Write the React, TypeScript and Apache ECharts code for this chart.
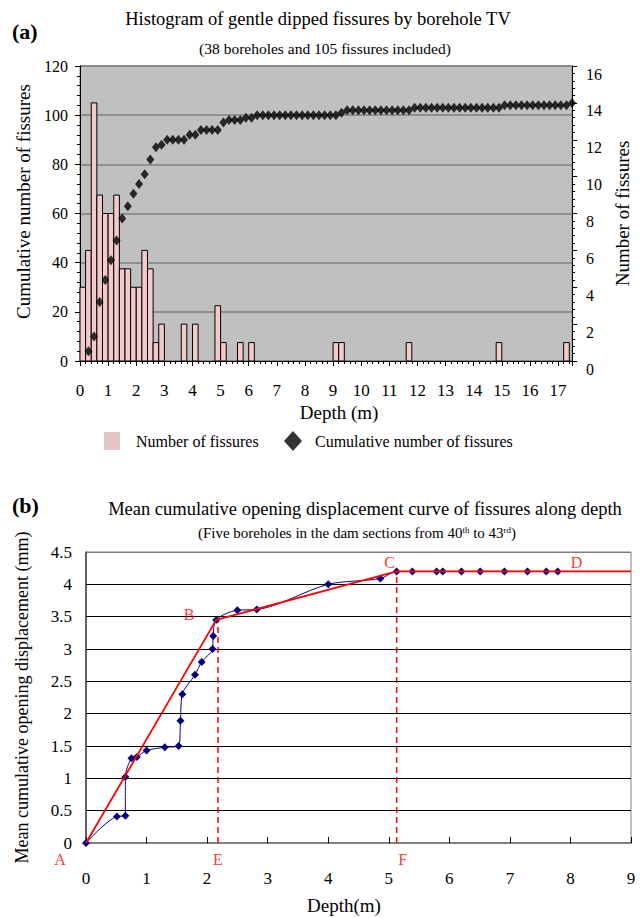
import React, { useEffect, useRef } from "react";
import * as echarts from "echarts";

// ---------- (a) Histogram data ----------
const histDepth = [0, 0.2, 0.4, 0.6, 0.8, 1.0, 1.2, 1.4, 1.6, 1.8, 2.0, 2.2, 2.4, 2.6, 2.8, 3.6, 4.0, 4.8, 5.0, 5.6, 6.0, 9.0, 9.2, 11.6, 14.8, 17.2];
const histCount = [4, 6, 14, 9, 8, 8, 9, 5, 5, 4, 4, 6, 5, 1, 2, 2, 2, 3, 1, 1, 1, 1, 1, 1, 1, 1];
const binWidth = 0.2;

const cumDepth = [
  0.3, 0.5, 0.7, 0.9, 1.1, 1.3, 1.5, 1.7, 1.9, 2.1, 2.3, 2.5, 2.7, 2.9, 3.1, 3.3, 3.5, 3.7, 3.9, 4.1,
  4.3, 4.5, 4.7, 4.9, 5.1, 5.3, 5.5, 5.7, 5.9, 6.1, 6.3, 6.5, 6.7, 6.9, 7.1, 7.3, 7.5, 7.7, 7.9, 8.1,
  8.3, 8.5, 8.7, 8.9, 9.1, 9.3, 9.5, 9.7, 9.9, 10.1, 10.3, 10.5, 10.7, 10.9, 11.1, 11.3, 11.5, 11.7, 11.9, 12.1,
  12.3, 12.5, 12.7, 12.9, 13.1, 13.3, 13.5, 13.7, 13.9, 14.1, 14.3, 14.5, 14.7, 14.9, 15.1, 15.3, 15.5, 15.7, 15.9, 16.1,
  16.3, 16.5, 16.7, 16.9, 17.1, 17.3, 17.5,
];
const cumCount = [
  4, 10, 24, 33, 41, 49, 58, 63, 68, 72, 76, 82, 87, 88, 90, 90, 90, 90, 92, 92,
  94, 94, 94, 94, 97, 98, 98, 98, 99, 99, 100, 100, 100, 100, 100, 100, 100, 100, 100, 100,
  100, 100, 100, 100, 100, 101, 102, 102, 102, 102, 102, 102, 102, 102, 102, 102, 102, 102, 103, 103,
  103, 103, 103, 103, 103, 103, 103, 103, 103, 103, 103, 103, 103, 103, 104, 104, 104, 104, 104, 104,
  104, 104, 104, 104, 104, 104, 105,
];

// ---------- (b) Displacement data ----------
const dispDepth = [0, 0.51, 0.65, 0.65, 0.75, 0.84, 1.0, 1.3, 1.53, 1.56, 1.59, 1.8, 1.91, 2.09, 2.1, 2.15, 2.5, 2.82, 4.0, 4.86, 5.13, 5.39, 5.79, 5.89, 6.2, 6.51, 6.91, 7.29, 7.6, 7.79];
const dispValue = [0, 0.41, 0.42, 1.02, 1.31, 1.33, 1.43, 1.48, 1.5, 1.89, 2.3, 2.6, 2.8, 3.0, 3.2, 3.45, 3.6, 3.61, 4.0, 4.09, 4.2, 4.2, 4.2, 4.2, 4.2, 4.2, 4.2, 4.2, 4.2, 4.2];
const fitDepth = [0, 2.15, 5.13, 9];
const fitValue = [0, 3.45, 4.2, 4.2];
const dashDepth = [2.18, 5.13];
const dashTop = [3.45, 4.2];
const markNames = ["A", "B", "C", "D", "E", "F"];
const markDepth = [0, 2.15, 5.13, 8.1, 2.18, 5.13];
const markValue = [0, 3.45, 4.2, 4.2, 0, 0];

const SERIF = "Liberation Serif";

export default function App() {
  const ref = useRef<HTMLDivElement>(null);

  useEffect(() => {
    if (!ref.current) return;
    const chart = echarts.init(ref.current, null, { renderer: "svg" });

    const labelOffsets: Record<string, number[]> = {
      A: [-26, 16],
      B: [-27, -5],
      C: [-7, -9],
      D: [0, -9],
      E: [0, 16],
      F: [6, 16],
    };

    const dashSeries = dashDepth.map((d, i) => ({
      type: "line",
      xAxisIndex: 1,
      yAxisIndex: 2,
      data: [
        [d, 0],
        [d, dashTop[i]],
      ],
      symbol: "none",
      lineStyle: { color: "#ff0000", width: 1.5, type: [6, 4] },
      z: 3,
    }));

    const txt = (text: string, x: number, y: number, size: number, extra: any = {}) => ({
      type: "text",
      x,
      y,
      style: {
        text,
        fontSize: size,
        fontFamily: SERIF,
        fill: "#000",
        align: "center",
        verticalAlign: "middle",
        ...extra,
      },
    });

    const option: any = {
      animation: false,
      textStyle: { fontFamily: SERIF, color: "#000" },
      graphic: [
        txt("(a)", 12, 31, 22, { fontWeight: "bold", align: "left" }),
        txt("Histogram of gentle dipped fissures by borehole TV", 318, 19, 18.5),
        txt("(38 boreholes and 105 fissures included)", 325, 48, 15.5),
        txt("(b)", 12, 505, 22, { fontWeight: "bold", align: "left" }),
        txt("Mean cumulative opening displacement curve of fissures along depth", 365, 509, 18.5),
        txt("(Five boreholes in the dam sections from 40{sup|th} to 43{sup|rd})", 357, 533, 15, {
          rich: {
            sup: { fontSize: 9, fontFamily: SERIF, verticalAlign: "top", fill: "#000" },
          },
        }),
      ],
      legend: [
        {
          left: 104,
          top: 432,
          padding: 0,
          itemWidth: 16,
          itemHeight: 18,
          selectedMode: false,
          textStyle: { fontSize: 16, fontFamily: SERIF, color: "#000", padding: [0, 0, 0, 11] },
          data: [{ name: "Number of fissures", icon: "rect", itemStyle: { color: "#e8c4c4", borderWidth: 0 } }],
        },
        {
          left: 284,
          top: 431,
          padding: 0,
          itemWidth: 18,
          itemHeight: 20,
          selectedMode: false,
          textStyle: { fontSize: 16, fontFamily: SERIF, color: "#000", padding: [0, 0, 0, 8] },
          data: [{ name: "Cumulative number of fissures", icon: "diamond", itemStyle: { color: "#000" } }],
        },
      ],
      grid: [
        {
          left: 80,
          right: 62,
          top: 66,
          bottom: 557,
          show: true,
          backgroundColor: "#c0c0c0",
          borderColor: "#808080",
          borderWidth: 1,
        },
        {
          left: 86,
          right: 9,
          top: 552,
          bottom: 75,
          show: true,
          backgroundColor: "transparent",
          borderColor: "#808080",
          borderWidth: 1,
        },
      ],
      xAxis: [
        {
          gridIndex: 0,
          type: "value",
          min: 0,
          max: 17.5,
          interval: 1,
          name: "Depth (m)",
          nameLocation: "middle",
          nameGap: 42,
          nameTextStyle: { fontSize: 19, fontFamily: SERIF, color: "#000", padding: [0, 0, 0, 26] },
          axisLine: { show: true, onZero: false, lineStyle: { color: "#000", width: 1 } },
          axisTick: { show: true, inside: false, length: 5, lineStyle: { color: "#000" } },
          minorTick: { show: true, splitNumber: 5, length: 3, lineStyle: { color: "#000" } },
          axisLabel: {
            fontSize: 17,
            fontFamily: SERIF,
            color: "#000",
            margin: 21,
            formatter: (v: number) => (Number.isInteger(v) ? String(v) : ""),
          },
          splitLine: { show: false },
        },
        {
          gridIndex: 1,
          type: "value",
          min: 0,
          max: 9,
          interval: 1,
          name: "Depth(m)",
          nameLocation: "middle",
          nameGap: 53,
          nameTextStyle: { fontSize: 19, fontFamily: SERIF, color: "#000", padding: [0, 29, 0, 0] },
          axisLine: { show: true, onZero: false, lineStyle: { color: "#808080", width: 2 } },
          axisTick: { show: true, inside: true, length: 6, lineStyle: { color: "#000" } },
          axisLabel: { fontSize: 17, fontFamily: SERIF, color: "#000", margin: 27 },
          splitLine: { show: false },
        },
      ],
      yAxis: [
        {
          gridIndex: 0,
          type: "value",
          min: 0,
          max: 120,
          interval: 20,
          name: "Cumulative number of fissures",
          nameLocation: "middle",
          nameGap: 44,
          nameTextStyle: { fontSize: 19, fontFamily: SERIF, color: "#000", padding: [0, 0, 0, 24] },
          axisLine: { show: true, lineStyle: { color: "#000" } },
          axisTick: { show: true, inside: false, length: 5, lineStyle: { color: "#000" } },
          minorTick: { show: true, splitNumber: 5, length: 3, lineStyle: { color: "#000" } },
          axisLabel: { fontSize: 16, fontFamily: SERIF, color: "#000", margin: 12 },
          splitLine: { show: true, lineStyle: { color: "#7f7f7f", width: 1.5 } },
        },
        {
          gridIndex: 0,
          type: "value",
          position: "right",
          min: 0,
          max: 16,
          interval: 2,
          name: "Number of fissures",
          nameLocation: "middle",
          nameGap: 32,
          nameTextStyle: { fontSize: 19, fontFamily: SERIF, color: "#000" },
          axisLine: { show: true, lineStyle: { color: "#000" } },
          axisTick: { show: true, inside: false, length: 5, lineStyle: { color: "#000" } },
          minorTick: { show: true, splitNumber: 5, length: 3, lineStyle: { color: "#000" } },
          axisLabel: { fontSize: 16, fontFamily: SERIF, color: "#000", margin: 14, verticalAlign: "top" },
          splitLine: { show: false },
        },
        {
          gridIndex: 1,
          type: "value",
          min: 0,
          max: 4.5,
          interval: 0.5,
          name: "Mean cumulative opening displacement (mm)",
          nameLocation: "middle",
          nameGap: 55,
          nameTextStyle: { fontSize: 18, fontFamily: SERIF, color: "#000" },
          axisLine: { show: true, lineStyle: { color: "#404040", width: 1.5 } },
          axisTick: { show: false },
          axisLabel: { fontSize: 17, fontFamily: SERIF, color: "#000", margin: 14 },
          splitLine: {
            show: true,
            lineStyle: {
              color: ["#000", "#000", "#000", "#000", "#000", "#000", "#000", "#000", "#000", "#808080"],
              width: 1,
            },
          },
        },
      ],
      series: [
        {
          name: "Number of fissures",
          type: "custom",
          xAxisIndex: 0,
          yAxisIndex: 1,
          itemStyle: { color: "#f2caca" },
          encode: { x: 0, y: 1 },
          data: histDepth.map((d, i) => [d, histCount[i]]),
          renderItem: (_params: any, api: any) => {
            const x0 = api.value(0);
            const c = api.value(1);
            const p0 = api.coord([x0, c]);
            const p1 = api.coord([x0 + binWidth, 0]);
            return {
              type: "rect",
              shape: { x: p0[0], y: p0[1], width: p1[0] - p0[0], height: p1[1] - p0[1] },
              style: { fill: "#f2caca", stroke: "#000", lineWidth: 1 },
            };
          },
          z: 2,
        },
        {
          name: "Cumulative number of fissures",
          type: "scatter",
          xAxisIndex: 0,
          yAxisIndex: 0,
          symbol: "diamond",
          symbolSize: [8, 10],
          itemStyle: { color: "#000" },
          data: cumDepth.map((d, i) => [d, cumCount[i]]),
          z: 3,
        },
        {
          name: "Mean cumulative opening displacement",
          type: "line",
          xAxisIndex: 1,
          yAxisIndex: 2,
          smooth: 0.3,
          symbol: "diamond",
          symbolSize: 8,
          itemStyle: { color: "#000080" },
          lineStyle: { color: "#000080", width: 1 },
          data: dispDepth.map((d, i) => [d, dispValue[i]]),
          z: 4,
        },
        {
          name: "Fit",
          type: "line",
          xAxisIndex: 1,
          yAxisIndex: 2,
          symbol: "none",
          lineStyle: { color: "#ff0000", width: 1.8 },
          data: fitDepth.map((d, i) => [d, fitValue[i]]),
          z: 5,
        },
        ...dashSeries,
        {
          name: "Marks",
          type: "scatter",
          xAxisIndex: 1,
          yAxisIndex: 2,
          symbolSize: 0,
          silent: true,
          label: {
            show: true,
            position: "inside",
            formatter: (p: any) => p.name,
            fontSize: 16,
            fontFamily: SERIF,
            color: "#ff0000",
          },
          data: markNames.map((n, i) => ({
            name: n,
            value: [markDepth[i], markValue[i]],
            label: { offset: labelOffsets[n] },
          })),
          z: 6,
        },
      ],
    };

    chart.setOption(option);
    return () => chart.dispose();
  }, []);

  return (
    <div
      ref={ref}
      style={{ position: "fixed", left: 0, top: 0, width: 640, height: 918, background: "#fff" }}
    />
  );
}
